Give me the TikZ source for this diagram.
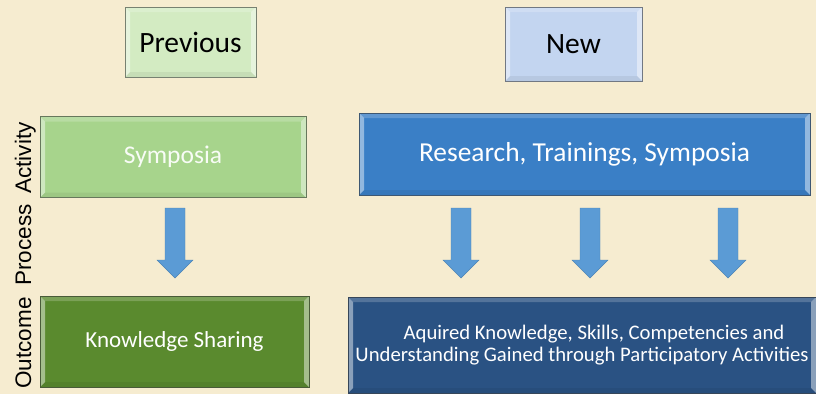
\documentclass[tikz,border=0pt]{standalone}
\usepackage{fontspec}
\setmainfont{Carlito}
\newfontfamily\labelfont{Liberation Sans}
\definecolor{bg}{HTML}{F6ECD0}
\definecolor{prevc}{HTML}{D3EBC2}
\definecolor{newc}{HTML}{C3D5F0}
\definecolor{symc}{HTML}{A7D48C}
\definecolor{resc}{HTML}{3A7FC6}
\definecolor{ksc}{HTML}{5A8A2E}
\definecolor{aqc}{HTML}{2A5283}
\definecolor{arrowc}{HTML}{5B9BD5}
\begin{document}
\begin{tikzpicture}[x=1pt,y=-1pt,
  box/.style={rectangle, fill=#1, draw=#1!55!black!70!gray, line width=0.8pt, inner sep=0pt,
    path picture={
      \fill[white,opacity=.45] (path picture bounding box.north west) -- (path picture bounding box.south west) -- ++(5pt,5pt) -- ([xshift=5pt,yshift=-5pt]path picture bounding box.north west) -- cycle;
      \fill[white,opacity=.45] (path picture bounding box.north east) -- (path picture bounding box.south east) -- ++(-5pt,5pt) -- ([xshift=-5pt,yshift=-5pt]path picture bounding box.north east) -- cycle;
      \fill[white,opacity=.2] (path picture bounding box.north west) -- (path picture bounding box.north east) -- ++(-5pt,-5pt) -- ([xshift=5pt,yshift=-5pt]path picture bounding box.north west) -- cycle;
      \fill[black,opacity=.06] (path picture bounding box.south west) -- (path picture bounding box.south east) -- ++(-5pt,5pt) -- ([xshift=5pt,yshift=5pt]path picture bounding box.south west) -- cycle;
    }},
  sidelabel/.style={rotate=90, anchor=base, font=\labelfont\fontsize{22.5}{26}\selectfont, text=black, inner sep=0pt},
  blockarrow/.pic={\fill[arrowc] (-10,0) -- (10,0) -- (10,52) -- (18,52) -- (0,70) -- (-18,52) -- (-10,52) -- cycle;
    \draw[arrowc!85!black, line width=0.4pt] (-10,0) -- (10,0) -- (10,52) -- (18,52) -- (0,70) -- (-18,52) -- (-10,52) -- cycle;}
]
\fill[bg] (0,0) rectangle (816,394);
\useasboundingbox (0,0) rectangle (816,394);

\node[box=prevc, minimum width=131pt, minimum height=70pt, font=\fontsize{29.5}{34}\selectfont, text=black] (prev) at (190.5,42) {Previous};
\node[box=newc, minimum width=137pt, minimum height=74pt, font=\fontsize{29.5}{34}\selectfont, text=black] (new) at (573.5,44) {New};

\node[box=symc, minimum width=266pt, minimum height=81pt, font=\fontsize{25.5}{30}\selectfont, text=white!92!symc] (sym) at (173,157) {Symposia};
\node[box=resc, minimum width=451pt, minimum height=82pt, font=\fontsize{27.4}{32}\selectfont, text=white] (res) at (584.5,154) {Research, Trainings, Symposia};

\node[box=ksc, minimum width=269pt, minimum height=91pt, font=\fontsize{23}{27}\selectfont, text=white] (ks) at (174.5,341.5) {Knowledge Sharing};
\node[box=aqc, minimum width=468pt, minimum height=96pt, font=\fontsize{20.7}{22.5}\selectfont, text=white, align=center] (aq) at (582,345) {\hspace{24pt}Aquired Knowledge, Skills, Competencies and\\Understanding Gained through Participatory Activities};

\pic (a1) at (175,208) {blockarrow};
\pic (a2) at (461,208) {blockarrow};
\pic (a3) at (590,208) {blockarrow};
\pic (a4) at (728,208) {blockarrow};

\node[sidelabel] (lact) at (31,158) {Activity};
\node[sidelabel] (lproc) at (31,245) {Process};
\node[sidelabel] (lout) at (31,343) {Outcome};
\end{tikzpicture}
\end{document}
